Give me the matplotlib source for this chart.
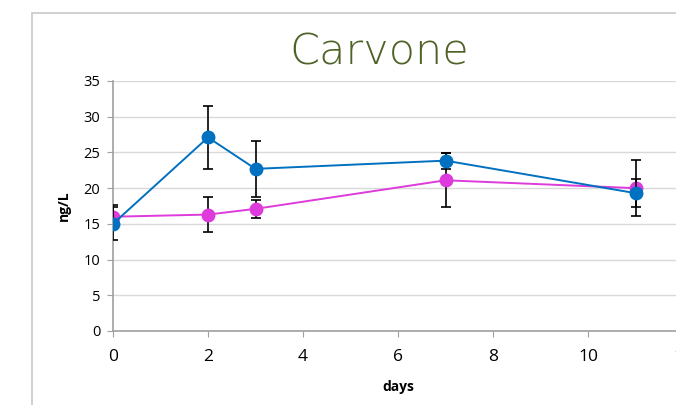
import matplotlib.pyplot as plt
from matplotlib.patches import Rectangle

# ---- data ----
days = [0, 2, 3, 7, 11]
blue_vals = [15.0, 27.1, 22.7, 23.85, 19.3]
blue_err = [2.3, 4.35, 3.9, 1.1, 2.0]
pink_vals = [16.0, 16.3, 17.1, 21.1, 20.0]
pink_err = [1.6, 2.5, 1.3, 3.8, 3.9]

yticks = [0, 5, 10, 15, 20, 25, 30, 35]
xticks = [0, 2, 4, 6, 8, 10, 12]

plt.rcParams['font.family'] = ['Open Sans', 'DejaVu Sans']

fig = plt.figure(figsize=(6.76, 4.05), dpi=100)

# chart area frame (partly cut off on the right and bottom)
fig.add_artist(Rectangle((32 / 676, -0.2), 1.0, (405 - 13) / 405 + 0.2,
                         transform=fig.transFigure, fill=False,
                         edgecolor='#c8c8c8', linewidth=1.2))

ax = fig.add_axes([113 / 676, 74 / 405, 570 / 676, 250 / 405])

ax.errorbar(days, pink_vals, yerr=pink_err, color='#dd3bdb', marker='o',
            markersize=9, linewidth=1.4, ecolor='black', elinewidth=1.2,
            capsize=3.5, capthick=1.2, zorder=3)
ax.errorbar(days, blue_vals, yerr=blue_err, color='#0070c0', marker='o',
            markersize=9, linewidth=1.4, ecolor='black', elinewidth=1.2,
            capsize=3.5, capthick=1.2, zorder=4)

ax.set_xlim(0, 12)
ax.set_ylim(0, 35)
ax.set_xticks(xticks)
ax.set_yticks(yticks)
ax.tick_params(axis='x', labelsize=12.5, length=4, color='#a0a0a0', pad=9)
ax.tick_params(axis='y', labelsize=10.5, length=4, color='#a0a0a0', pad=5)

ax.grid(axis='y', color='#d9d9d9', linewidth=1)
ax.set_axisbelow(True)
for side in ['top', 'right']:
    ax.spines[side].set_visible(False)
for side in ['left', 'bottom']:
    ax.spines[side].set_color('#a0a0a0')
    ax.spines[side].set_linewidth(1.2)

ax.set_xlabel('days', fontsize=10, fontweight='bold', labelpad=11)
ax.set_ylabel('ng/L', fontsize=10, fontweight='bold', labelpad=9)

fig.text(379 / 676, 1 - 52 / 405, 'Carvone', fontsize=31, color='#4f6228',
         ha='center', va='center', family=['DejaVu Sans'], fontweight='light')

plt.savefig('out.png', dpi=100)
